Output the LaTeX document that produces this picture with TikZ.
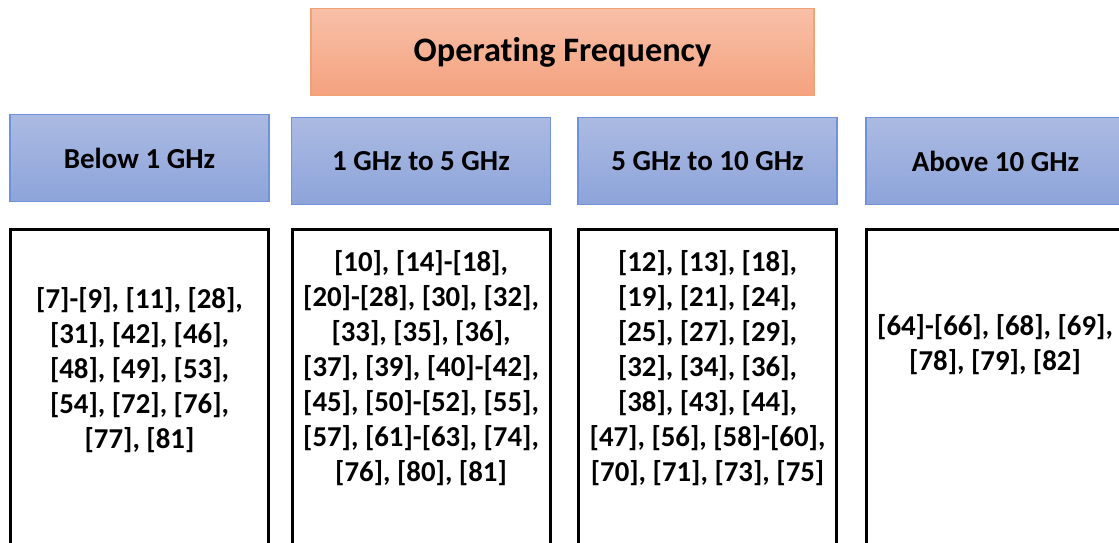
\documentclass[tikz,border=0pt]{standalone}
\usepackage{fontspec}
\setmainfont{Carlito}[Ligatures=NoCommon]
\definecolor{orangeTop}{HTML}{F8C0A8}
\definecolor{orangeBot}{HTML}{F4A27F}
\definecolor{orangeLine}{HTML}{F2A173}
\definecolor{blueTop}{HTML}{ABBAE2}
\definecolor{blueBot}{HTML}{8DA4DA}
\definecolor{blueLine}{HTML}{7092D8}
\begin{document}
\begin{tikzpicture}[x=1pt,y=1pt,
  titlebox/.style={draw=orangeLine, line width=1.3pt, top color=orangeTop, bottom color=orangeBot,
    minimum width=503pt, minimum height=87pt, inner sep=0pt,
    font=\fontsize{34.3}{40}\selectfont\bfseries},
  bandbox/.style={draw=blueLine, line width=1.3pt, top color=blueTop, bottom color=blueBot,
    minimum width=259pt, minimum height=87pt, inner sep=0pt,
    font=\fontsize{29}{35}\selectfont\bfseries},
  listbox/.style={draw=black, line width=3pt, minimum width=258pt, minimum height=340pt,
    inner sep=0pt, anchor=north},
  listtext/.style={align=center, inner sep=0pt,
    font=\fontsize{28.8}{35}\selectfont\bfseries}
]
\useasboundingbox (0,-543) rectangle (1119,0);
\clip (0,-543) rectangle (1119,0);

% heading
\node[titlebox] (title) at (562.5,-52) {Operating Frequency};

% frequency bands
\node[bandbox] (b1) at (139.5,-158) {Below 1 GHz};
\node[bandbox] (b2) at (421,-161) {1 GHz to 5 GHz};
\node[bandbox] (b3) at (707.5,-161) {5 GHz to 10 GHz};
\node[bandbox] (b4) at (995.5,-161) {Above 10 GHz};

% reference lists
\node[listbox] (l1) at (139.5,-228) {};
\node[listbox] (l2) at (421,-228) {};
\node[listbox] (l3) at (707.5,-228) {};
\node[listbox] (l4) at (995.5,-228) {};

\node[listtext] (t1) at (139.5,-370) {[7]-[9], [11], [28],\\{}[31], [42], [46],\\{}[48], [49], [53],\\{}[54], [72], [76],\\{}[77], [81]};
\node[listtext] (t2) at (421,-368) {[10], [14]-[18],\\{}[20]-[28], [30], [32],\\{}[33], [35], [36],\\{}[37], [39], [40]-[42],\\{}[45], [50]-[52], [55],\\{}[57], [61]-[63], [74],\\{}[76], [80], [81]};
\node[listtext] (t3) at (707.5,-368) {[12], [13], [18],\\{}[19], [21], [24],\\{}[25], [27], [29],\\{}[32], [34], [36],\\{}[38], [43], [44],\\{}[47], [56], [58]-[60],\\{}[70], [71], [73], [75]};
\node[listtext] (t4) at (995,-345) {[64]-[66], [68], [69],\\{}[78], [79], [82]};
\end{tikzpicture}
\end{document}
